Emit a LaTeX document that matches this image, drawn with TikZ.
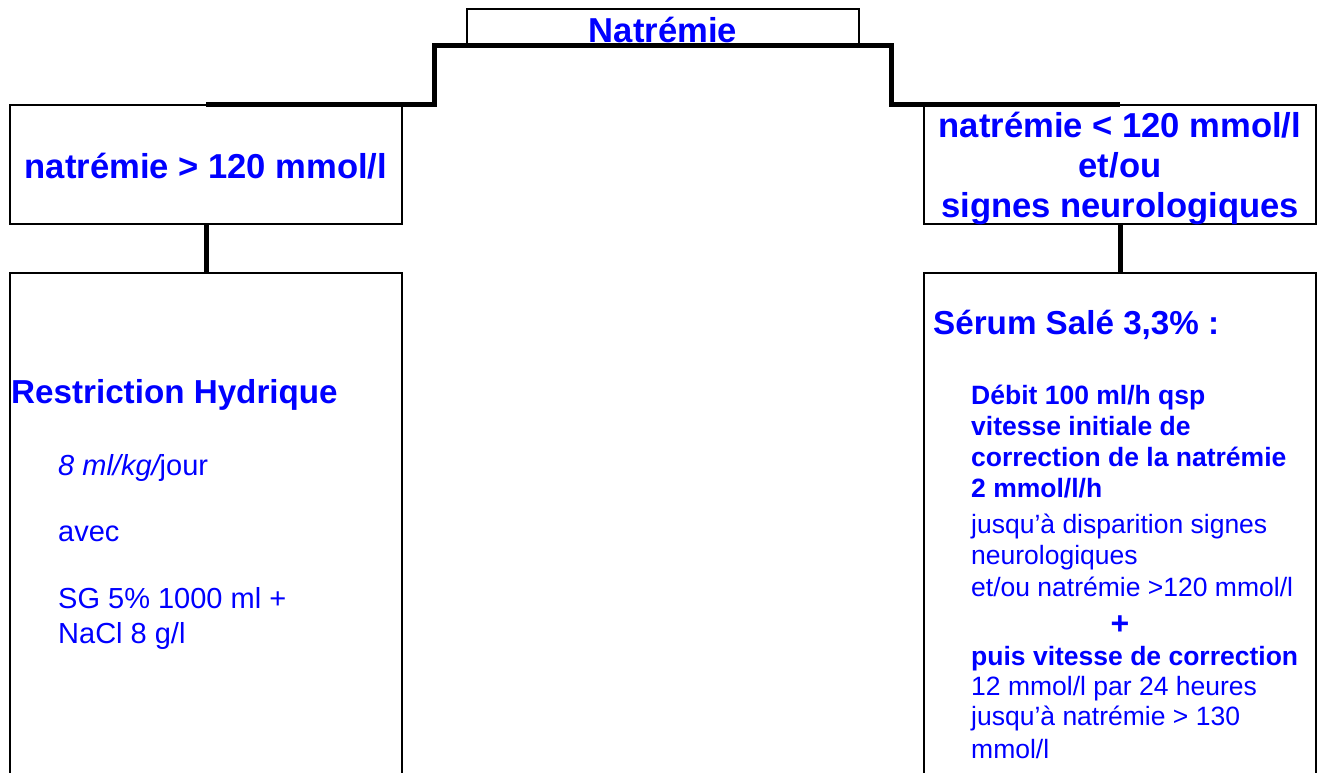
\documentclass[tikz,border=0pt]{standalone}
\usepackage{fontspec}
\setmainfont{Liberation Sans}
\definecolor{natblue}{RGB}{0,0,255}

\begin{document}
\begin{tikzpicture}[x=1pt, y=-1pt,
        box/.style={draw, line width=1.5pt, minimum width=392pt, inner sep=0pt},
        link/.style={line width=5pt},
        bigtxt/.style={text=natblue, inner sep=0pt, anchor=base, font=\fontsize{34.6}{40}\selectfont\bfseries},
        titletxt/.style={text=natblue, inner sep=0pt, anchor=base west, font=\fontsize{33.2}{40}\selectfont\bfseries},
        boldtxt/.style={text=natblue, inner sep=0pt, anchor=base west, font=\fontsize{26.5}{31}\selectfont\bfseries},
        plaintxt/.style={text=natblue, inner sep=0pt, anchor=base west, font=\fontsize{26.5}{31}\selectfont},
        lefttxt/.style={plaintxt, font=\fontsize{29}{34}\selectfont}]
    \useasboundingbox (0,0) rectangle (1321,772);
    \clip (0,0) rectangle (1321,772);

    \node[box, minimum height=36pt] (top) at (663,27) {};
    \node[box, minimum height=119pt] (lefthead) at (206,164.5) {};
    \node[box, minimum height=119pt] (righthead) at (1120,164.5) {};
    \node[box, minimum height=520pt] (leftbody) at (206,533) {};
    \node[box, minimum height=520pt] (rightbody) at (1120,533) {};

    \coordinate (lstep) at (434,45);
    \coordinate (rstep) at (891,45);
    \draw[link] (lefthead.north) -| (lstep) -- (rstep) |- (righthead.north);
    \draw[link] (lefthead.south) -- (leftbody.north);
    \draw[link] (righthead.south) -- (rightbody.north);

    \node[bigtxt] (title) at (663,42) {Natrémie};
    \node[bigtxt] (lefttitle) at (206,178) {natrémie > 120 mmol/l};
    \foreach \txt [count=\i] in {natrémie < 120 mmol/l, et/ou, signes neurologiques}{
            \node[bigtxt] (righttitle\i) at (1120,97+40*\i) {\txt};
        }

    \node[titletxt] (restrict) at (11,403) {Restriction Hydrique};
    \node[lefttxt] (dose) at (58,475) {\itshape 8 ml/kg/\upshape jour};
    \node[lefttxt] (avec) at (58,541) {avec};
    \node[lefttxt] (sg) at (58,608) {SG 5\% 1000 ml +};
    \node[lefttxt] (nacl) at (58,643) {NaCl 8 g/l};

    \node[titletxt] (serum) at (933,334) {Sérum Salé 3,3\% :};
    \foreach \txt [count=\i] in {Débit 100 ml/h qsp, vitesse initiale de, correction de la natrémie, 2 mmol/l/h}{
            \node[boldtxt] (debit\i) at (971,373+31*\i) {\txt};
        }
    \node[plaintxt] (jusqua) at (971,533) {jusqu’à disparition signes};
    \node[plaintxt] (neuro) at (971,564) {neurologiques};
    \node[plaintxt] (etou) at (971,596) {et/ou natrémie >120 mmol/l};
    \node[boldtxt, anchor=base, font=\fontsize{32}{31}\selectfont\bfseries] (plus) at (1120,634) {+};
    \node[boldtxt] (puis) at (971,665) {puis vitesse de correction};
    \node[plaintxt] (rate) at (971,695) {12 mmol/l par 24 heures};
    \node[plaintxt] (target) at (971,725) {jusqu’à natrémie > 130};
    \node[plaintxt] (unit) at (971,758) {mmol/l};
\end{tikzpicture}
\end{document}
